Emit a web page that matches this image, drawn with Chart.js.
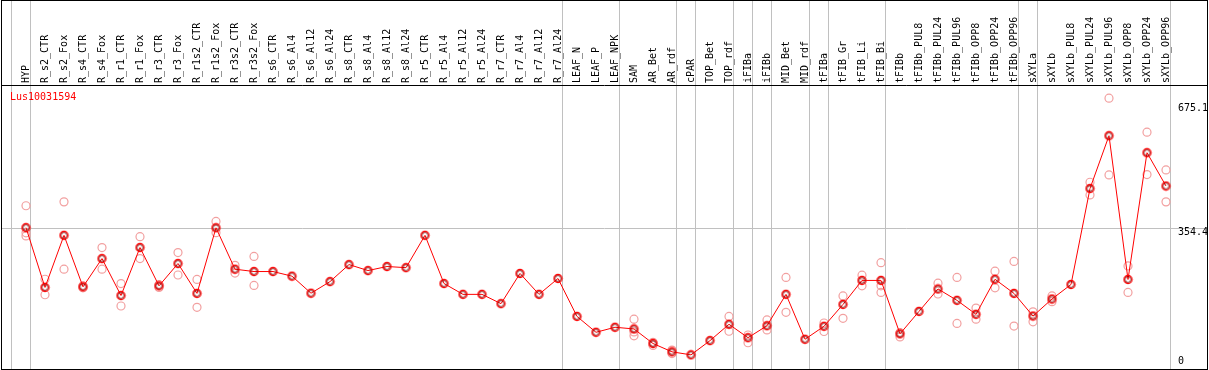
<!DOCTYPE html>
<html>
<head>
<meta charset="utf-8">
<script src="https://cdn.jsdelivr.net/npm/chart.js@4/dist/chart.umd.min.js"></script>
<style>
  html, body { margin: 0; padding: 0; background: #fff; }
  canvas { display: block; }
</style>
</head>
<body>
<canvas id="chart" width="1209" height="370"></canvas>
<script>
const geneName = 'Lus10031594';

const categories = [
  'HYP', 'R_s2_CTR', 'R_s2_Fox', 'R_s4_CTR', 'R_s4_Fox', 'R_r1_CTR', 'R_r1_Fox',
  'R_r3_CTR', 'R_r3_Fox', 'R_r1s2_CTR', 'R_r1s2_Fox', 'R_r3s2_CTR', 'R_r3s2_Fox',
  'R_s6_CTR', 'R_s6_Al4', 'R_s6_Al12', 'R_s6_Al24', 'R_s8_CTR', 'R_s8_Al4',
  'R_s8_Al12', 'R_s8_Al24', 'R_r5_CTR', 'R_r5_Al4', 'R_r5_Al12', 'R_r5_Al24',
  'R_r7_CTR', 'R_r7_Al4', 'R_r7_Al12', 'R_r7_Al24', 'LEAF_N', 'LEAF_P', 'LEAF_NPK',
  'SAM', 'AR_Bet', 'AR_rdf', 'cPAR', 'TOP_Bet', 'TOP_rdf', 'iFIBa', 'iFIBb',
  'MID_Bet', 'MID_rdf', 'tFIBa', 'tFIB_Gr', 'tFIB_Li', 'tFIB_Bi', 'tFIBb',
  'tFIBb_PUL8', 'tFIBb_PUL24', 'tFIBb_PUL96', 'tFIBb_OPP8', 'tFIBb_OPP24', 'tFIBb_OPP96',
  'sXYLa', 'sXYLb', 'sXYLb_PUL8', 'sXYLb_PUL24', 'sXYLb_PUL96', 'sXYLb_OPP8',
  'sXYLb_OPP24', 'sXYLb_OPP96'
];

// mean expression per sample
const means = [
  354.4, 200, 334.5, 201.5, 274.5, 179, 303, 204, 261.7, 184.5, 354, 247, 241,
  241, 229, 185, 215, 259, 243.5, 254, 251, 334.5, 210, 182, 182,
  158, 236, 182, 223, 125, 84, 97,
  92.6, 55, 33.5, 25.7, 62.5, 104.7, 70, 101,
  182, 66, 99.5, 156, 218, 218, 80,
  138, 196, 166.5, 130.5, 221, 184.5,
  126, 170, 207.5, 455.5, 592, 220.5, 548, 462
];

// individual replicates (null = not shown)
const rep1 = [
  411, 221, 421, 204, 303, 210, 331, 207, 290, 220.5, 370.5, 257, 280,
  null, null, null, null, null, null, null, null, null, null, null, null,
  null, null, null, null, null, null, null,
  118, 58, 38, null, null, 125, 77, 116,
  225.7, null, 108, 178, 231.6, 264, 83,
  null, 211, 225.7, 146.7, 242, 267,
  137, 178, null, 471.7, 689, 255.5, 601, 503.6
];
const rep2 = [
  333, 181, 247, 199, 247, 152, 274.5, 200, 232, 148.5, 341.5, 237, 205,
  null, null, null, null, null, null, null, null, null, null, null, null,
  null, null, null, null, null, null, null,
  85, 50, 29, null, null, 86.7, 57, 90,
  135.6, null, 86, 120, 204, 204, 72,
  null, 183, 107, 118, 199, 100,
  111, 163, null, 439, 490.7, 187, 491.5, 421
];
const rep3 = [
  341, null, null, null, null, null, null, null, null, null, null, null, null,
  null, null, null, null, null, null, null, null, null, null, null, null,
  null, null, null, null, null, null, null,
  75, null, null, null, null, null, null, null,
  null, null, null, null, null, 187, null,
  null, null, null, null, null, null,
  null, null, null, null, null, null, null, null
];

const yTicks = [0, 354.4, 675.1];
const yMax = 723;
// group separators: vertical line after these indices
const separators = [-1, 0, 28, 31, 34, 35, 37, 38, 39, 41, 42, 45, 52, 53, 60];

const FONT = '10px "DejaVu Sans Mono", "Liberation Mono", monospace';

// marker for the mean points: red ring with a darker inner ring
function meanMarker() {
  const c = document.createElement('canvas');
  c.width = 11; c.height = 11;
  const g = c.getContext('2d');
  g.lineWidth = 1.3;
  g.strokeStyle = '#ff0000';
  g.beginPath(); g.arc(5.5, 5.5, 4, 0, Math.PI * 2); g.stroke();
  g.lineWidth = 0.8;
  g.strokeStyle = '#700000';
  g.beginPath(); g.arc(5.5, 5.5, 2.9, 0, Math.PI * 2); g.stroke();
  return c;
}

const framePlugin = {
  id: 'frame',
  beforeDatasetsDraw(chart) {
    const ctx = chart.ctx;
    const x = chart.scales.x, y = chart.scales.y;
    const W = chart.width;
    const step = x.getPixelForValue(1) - x.getPixelForValue(0);
    ctx.save();
    ctx.strokeStyle = '#c0c0c0';
    ctx.lineWidth = 1;
    separators.forEach(i => {
      const px = Math.round(x.getPixelForValue(0) + i * step + 4) + 0.5;
      ctx.beginPath();
      ctx.moveTo(px, 0);
      ctx.lineTo(px, 369);
      ctx.stroke();
    });
    // reference line at HYP level
    const gy = Math.round(y.getPixelForValue(yTicks[1])) + 0.5;
    ctx.beginPath();
    ctx.moveTo(1, gy);
    ctx.lineTo(W - 1, gy);
    ctx.stroke();
    ctx.restore();
  },
  afterDraw(chart) {
    const ctx = chart.ctx;
    const x = chart.scales.x, y = chart.scales.y;
    const W = chart.width;
    ctx.save();
    // outer frame and header separator
    ctx.strokeStyle = '#000';
    ctx.lineWidth = 1;
    ctx.strokeRect(1.5, 0.5, W - 3, 369);
    ctx.beginPath();
    ctx.moveTo(1, 85.5);
    ctx.lineTo(W - 1, 85.5);
    ctx.stroke();

    // sample labels, rotated
    ctx.font = FONT;
    ctx.fillStyle = '#000';
    ctx.textAlign = 'left';
    ctx.textBaseline = 'middle';
    categories.forEach((c, i) => {
      const px = x.getPixelForValue(i);
      ctx.save();
      ctx.translate(px, 83);
      ctx.rotate(-Math.PI / 2);
      ctx.fillText(c, 0, 0);
      ctx.restore();
    });

    // value labels on the right
    ctx.textBaseline = 'top';
    yTicks.forEach(v => {
      let py = y.getPixelForValue(v);
      if (py > 356) py = 356;
      ctx.fillText(String(v), 1178, py);
    });

    // gene name
    ctx.fillStyle = '#ff0000';
    ctx.textBaseline = 'middle';
    ctx.fillText(geneName, 10, 97);
    ctx.restore();
  }
};

function repSet(data) {
  return {
    data: data,
    showLine: false,
    pointRadius: 4,
    pointHoverRadius: 4,
    pointBorderWidth: 1.2,
    pointBorderColor: '#f2a0a0',
    pointBackgroundColor: 'rgba(0,0,0,0)',
    borderColor: '#f2a0a0'
  };
}

new Chart(document.getElementById('chart'), {
  type: 'line',
  data: {
    labels: categories,
    datasets: [
      {
        data: means,
        borderColor: '#ff0000',
        borderWidth: 1,
        pointStyle: meanMarker(),
        pointRadius: 4,
        pointHoverRadius: 4,
        tension: 0
      },
      repSet(rep1),
      repSet(rep2),
      repSet(rep3)
    ]
  },
  options: {
    responsive: false,
    animation: false,
    events: [],
    clip: false,
    layout: { padding: { left: 16.5, right: 33.5, top: 85, bottom: 4 } },
    plugins: { legend: { display: false }, tooltip: { enabled: false } },
    scales: {
      x: { type: 'category', offset: true, display: false },
      y: { min: 0, max: yMax, display: false }
    }
  },
  plugins: [framePlugin]
});
</script>
</body>
</html>
